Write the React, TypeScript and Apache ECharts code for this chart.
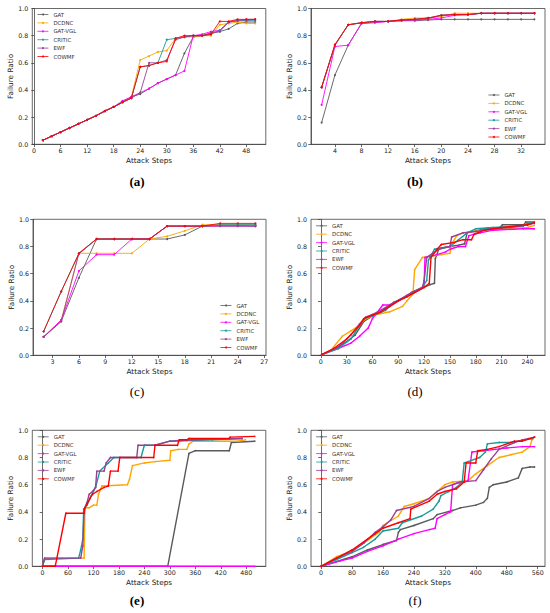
import React, { useEffect, useRef } from "react";
import * as echarts from "echarts";

const methods = ["GAT", "DCDNC", "GAT-VGL", "CRITIC", "EWF", "COWMF"];
const colors = ["#5a5a5a", "#ffa500", "#ff00ff", "#169c9c", "#9a3f96", "#ff0000"];

// Panel (a)
const aSteps = [2, 4, 6, 8, 10, 12, 14, 16, 18, 20, 22, 24, 26, 28, 30, 32, 34, 36, 38, 40, 42, 44, 46, 48, 50];
const aGAT = [0.03, 0.06, 0.09, 0.12, 0.15, 0.18, 0.21, 0.245, 0.275, 0.31, 0.35, 0.37, 0.41, 0.45, 0.48, 0.51, 0.67, 0.79, 0.80, 0.82, 0.83, 0.85, 0.89, 0.90, 0.90];
const aDCDNC = [0.03, 0.06, 0.09, 0.12, 0.15, 0.18, 0.21, 0.245, 0.275, 0.31, 0.35, 0.62, 0.65, 0.68, 0.69, 0.78, 0.79, 0.79, 0.80, 0.80, 0.88, 0.89, 0.90, 0.89, 0.89];
const aGATVGL = [0.03, 0.06, 0.09, 0.12, 0.15, 0.18, 0.21, 0.245, 0.275, 0.32, 0.35, 0.38, 0.41, 0.45, 0.48, 0.51, 0.54, 0.80, 0.81, 0.83, 0.84, 0.90, 0.91, 0.91, 0.92];
const aCRITIC = [0.03, 0.06, 0.09, 0.12, 0.15, 0.18, 0.21, 0.245, 0.275, 0.31, 0.34, 0.57, 0.58, 0.60, 0.77, 0.78, 0.79, 0.80, 0.80, 0.81, 0.84, 0.90, 0.91, 0.91, 0.91];
const aEWF = [0.03, 0.06, 0.09, 0.12, 0.15, 0.18, 0.21, 0.245, 0.275, 0.31, 0.34, 0.38, 0.60, 0.60, 0.62, 0.77, 0.79, 0.80, 0.80, 0.82, 0.83, 0.90, 0.91, 0.92, 0.92];
const aCOWMF = [0.03, 0.06, 0.09, 0.12, 0.15, 0.18, 0.21, 0.245, 0.275, 0.31, 0.34, 0.57, 0.58, 0.60, 0.61, 0.78, 0.80, 0.80, 0.80, 0.81, 0.905, 0.905, 0.92, 0.92, 0.92];

// Panel (b)
const bSteps = [2, 4, 6, 8, 10, 12, 14, 16, 18, 20, 22, 24, 26, 28, 30, 32, 34];
const bGAT = [0.16, 0.51, 0.73, 0.89, 0.90, 0.905, 0.91, 0.91, 0.915, 0.92, 0.92, 0.92, 0.92, 0.92, 0.92, 0.92, 0.92];
const bDCDNC = [0.42, 0.73, 0.88, 0.895, 0.90, 0.905, 0.92, 0.93, 0.93, 0.94, 0.965, 0.965, 0.965, 0.965, 0.965, 0.965, 0.965];
const bGATVGL = [0.29, 0.72, 0.73, 0.89, 0.895, 0.905, 0.91, 0.915, 0.92, 0.93, 0.95, 0.955, 0.965, 0.965, 0.965, 0.965, 0.965];
const bCRITIC = [0.42, 0.73, 0.88, 0.895, 0.905, 0.905, 0.915, 0.92, 0.93, 0.95, 0.955, 0.955, 0.965, 0.965, 0.965, 0.965, 0.965];
const bEWF = [0.42, 0.73, 0.88, 0.895, 0.905, 0.905, 0.915, 0.92, 0.925, 0.95, 0.955, 0.955, 0.965, 0.965, 0.965, 0.965, 0.965];
const bCOWMF = [0.42, 0.735, 0.88, 0.895, 0.905, 0.905, 0.915, 0.92, 0.93, 0.95, 0.955, 0.955, 0.965, 0.965, 0.965, 0.965, 0.965];

// Panel (c)
const cSteps = [2, 4, 6, 8, 10, 12, 14, 16, 18, 20, 22, 24, 26];
const cGAT = [0.135, 0.25, 0.57, 0.855, 0.855, 0.855, 0.855, 0.855, 0.885, 0.95, 0.955, 0.955, 0.95];
const cDCDNC = [0.135, 0.26, 0.75, 0.75, 0.75, 0.75, 0.855, 0.875, 0.915, 0.96, 0.96, 0.96, 0.96];
const cGATVGL = [0.135, 0.26, 0.62, 0.74, 0.74, 0.855, 0.855, 0.95, 0.95, 0.95, 0.95, 0.95, 0.95];
const cCRITIC = [0.175, 0.47, 0.745, 0.855, 0.855, 0.855, 0.855, 0.95, 0.95, 0.95, 0.96, 0.96, 0.96];
const cEWF = [0.135, 0.25, 0.75, 0.855, 0.855, 0.855, 0.855, 0.95, 0.95, 0.95, 0.95, 0.95, 0.95];
const cCOWMF = [0.175, 0.47, 0.75, 0.855, 0.855, 0.855, 0.855, 0.95, 0.95, 0.95, 0.97, 0.97, 0.97];

// Panel (d) [step, ratio]
const dGAT = [[1, 0.005], [15, 0.04], [30, 0.10], [40, 0.15], [50, 0.25], [60, 0.29], [75, 0.34], [90, 0.40], [105, 0.45], [120, 0.50], [127, 0.52], [132, 0.53], [133, 0.71], [137, 0.78], [150, 0.80], [160, 0.81], [167, 0.82], [170, 0.90], [190, 0.93], [208, 0.94], [211, 0.96], [236, 0.96], [238, 0.98], [248, 0.98]];
const dDCDNC = [[1, 0.005], [12, 0.04], [25, 0.14], [35, 0.18], [45, 0.22], [50, 0.26], [60, 0.29], [65, 0.30], [80, 0.32], [95, 0.36], [100, 0.40], [107, 0.45], [109, 0.63], [118, 0.72], [130, 0.73], [140, 0.74], [150, 0.75], [152, 0.82], [158, 0.88], [165, 0.90], [175, 0.91], [190, 0.92], [210, 0.93], [240, 0.94], [248, 0.955]];
const dGATVGL = [[1, 0.005], [20, 0.05], [35, 0.09], [45, 0.14], [55, 0.20], [60, 0.27], [72, 0.37], [80, 0.37], [92, 0.41], [100, 0.44], [108, 0.46], [118, 0.50], [120, 0.52], [121, 0.72], [135, 0.74], [145, 0.76], [150, 0.78], [160, 0.80], [168, 0.80], [172, 0.88], [185, 0.90], [200, 0.92], [235, 0.93], [248, 0.93]];
const dCRITIC = [[1, 0.005], [20, 0.05], [35, 0.12], [45, 0.22], [50, 0.27], [60, 0.29], [75, 0.33], [85, 0.39], [95, 0.42], [105, 0.46], [118, 0.50], [123, 0.55], [125, 0.70], [132, 0.78], [150, 0.80], [160, 0.85], [170, 0.90], [180, 0.93], [200, 0.94], [235, 0.95], [240, 0.97], [248, 0.975]];
const dEWF = [[1, 0.005], [20, 0.06], [35, 0.15], [45, 0.23], [52, 0.28], [60, 0.30], [75, 0.35], [85, 0.39], [95, 0.42], [105, 0.46], [118, 0.50], [120, 0.55], [123, 0.72], [130, 0.75], [140, 0.79], [150, 0.80], [152, 0.87], [165, 0.90], [180, 0.91], [200, 0.93], [220, 0.94], [240, 0.96], [248, 0.97]];
const dCOWMF = [[1, 0.005], [15, 0.05], [30, 0.12], [45, 0.22], [50, 0.27], [60, 0.295], [70, 0.32], [80, 0.36], [90, 0.40], [100, 0.43], [110, 0.465], [120, 0.50], [126, 0.53], [128, 0.72], [135, 0.78], [140, 0.815], [155, 0.83], [165, 0.85], [175, 0.85], [178, 0.89], [190, 0.92], [210, 0.94], [240, 0.96], [248, 0.975]];

// Panel (e)
const eGAT = [[0, 0], [295, 0], [345, 0.83], [360, 0.85], [440, 0.85], [445, 0.91], [500, 0.92]];
const eDCDNC = [[0, 0], [5, 0.06], [98, 0.06], [100, 0.43], [110, 0.43], [120, 0.45], [128, 0.45], [132, 0.53], [140, 0.59], [200, 0.60], [205, 0.64], [212, 0.74], [240, 0.76], [265, 0.77], [300, 0.78], [302, 0.85], [320, 0.86], [340, 0.86], [345, 0.90], [355, 0.92], [460, 0.92], [478, 0.93]];
const eGATVGL = [[0, 0], [500, 0]];
const eCRITIC = [[0, 0], [5, 0.05], [85, 0.06], [90, 0.12], [95, 0.20], [97, 0.42], [105, 0.45], [115, 0.52], [125, 0.58], [135, 0.70], [155, 0.76], [168, 0.80], [232, 0.80], [240, 0.89], [265, 0.89], [300, 0.92], [400, 0.93], [470, 0.94]];
const eEWF = [[0, 0], [5, 0.06], [90, 0.06], [95, 0.15], [98, 0.42], [105, 0.47], [110, 0.53], [118, 0.55], [125, 0.58], [128, 0.70], [145, 0.70], [150, 0.76], [160, 0.80], [222, 0.80], [225, 0.89], [265, 0.89], [300, 0.92], [350, 0.93], [470, 0.94]];
const eCOWMF = [[0, 0], [30, 0], [55, 0.39], [98, 0.39], [100, 0.43], [105, 0.46], [112, 0.50], [118, 0.53], [128, 0.55], [145, 0.58], [155, 0.59], [160, 0.70], [178, 0.70], [182, 0.80], [262, 0.80], [265, 0.89], [318, 0.89], [322, 0.93], [340, 0.93], [345, 0.94], [440, 0.94], [442, 0.95], [500, 0.955]];

// Panel (f)
const fGAT = [[0, 0], [80, 0.07], [120, 0.12], [160, 0.16], [195, 0.19], [200, 0.25], [205, 0.27], [240, 0.30], [290, 0.35], [300, 0.38], [340, 0.41], [360, 0.43], [400, 0.45], [420, 0.47], [430, 0.50], [435, 0.58], [445, 0.60], [480, 0.62], [510, 0.65], [520, 0.72], [540, 0.73], [552, 0.73]];
const fDCDNC = [[0, 0], [40, 0.07], [80, 0.11], [110, 0.17], [150, 0.25], [160, 0.30], [200, 0.37], [215, 0.44], [240, 0.46], [280, 0.50], [320, 0.60], [340, 0.62], [380, 0.63], [400, 0.68], [430, 0.74], [460, 0.80], [490, 0.82], [520, 0.84], [540, 0.88], [545, 0.93], [552, 0.95]];
const fGATVGL = [[0, 0], [50, 0.04], [80, 0.06], [120, 0.11], [160, 0.15], [200, 0.20], [240, 0.24], [280, 0.27], [295, 0.28], [300, 0.35], [320, 0.38], [335, 0.40], [340, 0.60], [350, 0.61], [370, 0.62], [380, 0.63], [390, 0.84], [420, 0.85], [450, 0.86], [480, 0.87], [520, 0.88], [552, 0.88]];
const fCRITIC = [[0, 0], [40, 0.05], [80, 0.10], [110, 0.14], [140, 0.20], [160, 0.26], [200, 0.28], [210, 0.32], [260, 0.37], [290, 0.42], [305, 0.48], [310, 0.52], [330, 0.55], [350, 0.58], [365, 0.62], [370, 0.76], [380, 0.77], [410, 0.80], [425, 0.84], [430, 0.90], [460, 0.91], [490, 0.91], [510, 0.92], [548, 0.94]];
const fEWF = [[0, 0], [40, 0.06], [80, 0.11], [110, 0.17], [140, 0.25], [160, 0.29], [180, 0.34], [195, 0.41], [240, 0.44], [280, 0.50], [300, 0.55], [320, 0.58], [360, 0.62], [400, 0.63], [420, 0.71], [440, 0.79], [460, 0.86], [500, 0.91], [520, 0.93], [552, 0.95]];
const fCOWMF = [[0, 0], [40, 0.06], [80, 0.12], [120, 0.20], [140, 0.24], [160, 0.28], [200, 0.32], [230, 0.35], [232, 0.42], [280, 0.48], [300, 0.53], [320, 0.55], [350, 0.57], [370, 0.62], [375, 0.76], [400, 0.76], [405, 0.85], [430, 0.86], [460, 0.88], [500, 0.92], [520, 0.92], [552, 0.95]];

// Tick labels
const aTicks = [0, 6, 12, 18, 24, 30, 36, 42, 48];
const bTicks = [4, 8, 12, 16, 20, 24, 28, 32];
const cTicks = [3, 6, 9, 12, 15, 18, 21, 24, 27];
const dTicks = [0, 30, 60, 90, 120, 150, 180, 210, 240];
const eTicks = [0, 60, 120, 180, 240, 300, 360, 420, 480];
const fTicks = [0, 80, 160, 240, 320, 400, 480, 560];
const panelLabels = ["(a)", "(b)", "(c)", "(d)", "(e)", "(f)"];

const zip = (xs: number[], ys: number[]) => xs.map((x, i) => [x, ys[i]]);

export default function App() {
  const ref = useRef<HTMLDivElement>(null);
  useEffect(() => {
    if (!ref.current) return;
    const chart = echarts.init(ref.current, undefined, { renderer: "svg" });
    const font = "DejaVu Sans";
    const grids = [
      { left: 32.3, top: 8.5, width: 233.5, height: 135.8 },
      { left: 311, top: 8.5, width: 234, height: 135.8 },
      { left: 33, top: 219.3, width: 233, height: 136 },
      { left: 311, top: 219.3, width: 234, height: 136 },
      { left: 32.3, top: 430.3, width: 233.5, height: 136 },
      { left: 311, top: 430.3, width: 234, height: 136 },
    ];
    const xRanges = [
      [-0.4, 52.4],
      [0.4, 35.6],
      [0.8, 27.2],
      [-11.4, 260.4],
      [-24, 526],
      [-26, 579],
    ];
    const ticks = [aTicks, bTicks, cTicks, dTicks, eTicks, fTicks];
    const data: number[][][][] = [
      [aGAT, aDCDNC, aGATVGL, aCRITIC, aEWF, aCOWMF].map((v) => zip(aSteps, v)),
      [bGAT, bDCDNC, bGATVGL, bCRITIC, bEWF, bCOWMF].map((v) => zip(bSteps, v)),
      [cGAT, cDCDNC, cGATVGL, cCRITIC, cEWF, cCOWMF].map((v) => zip(cSteps, v)),
      [dGAT, dDCDNC, dGATVGL, dCRITIC, dEWF, dCOWMF],
      [eGAT, eDCDNC, eGATVGL, eCRITIC, eEWF, eCOWMF],
      [fGAT, fDCDNC, fGATVGL, fCRITIC, fEWF, fCOWMF],
    ];
    const legendPos = [
      { left: 37, top: 11.5 },
      { left: 488, top: 92 },
      { left: 220, top: 302.5 },
      { left: 315.7, top: 222.8 },
      { left: 37.3, top: 433.8 },
      { left: 315.7, top: 433.8 },
    ];
    const labelPos = [
      [137, 181],
      [415, 181],
      [137, 391],
      [415, 391],
      [137, 600],
      [415, 600],
    ];
    const axisColor = "#444";
    const series: any[] = [];
    data.forEach((panel, p) => {
      panel.forEach((pts, m) => {
        const dense = p >= 3;
        series.push({
          type: "line",
          name: methods[m],
          xAxisIndex: p,
          yAxisIndex: p,
          data: pts,
          color: colors[m],
          lineStyle: { width: dense ? 1.4 : 0.9, color: colors[m] },
          itemStyle: { color: colors[m] },
          symbol: "circle",
          symbolSize: dense ? 1.6 : 2,
          showSymbol: true,
          z: 2 + m,
          silent: true,
        });
      });
    });
    const option: any = {
      animation: false,
      backgroundColor: "#fff",
      textStyle: { fontFamily: font },
      grid: grids.map((g) => ({
        ...g,
        show: true,
        borderColor: axisColor,
        borderWidth: 0.8,
        backgroundColor: "transparent",
        containLabel: false,
      })),
      xAxis: grids.map((_, p) => ({
        type: "value",
        gridIndex: p,
        min: xRanges[p][0],
        max: xRanges[p][1],
        name: "Attack Steps",
        nameLocation: "middle",
        nameGap: 12.5,
        nameTextStyle: { fontFamily: font, fontSize: 7.3, color: "#222" },
        axisLine: { show: true, lineStyle: { color: axisColor, width: 0.8 } },
        axisTick: {
          show: true,
          length: 2.8,
          lineStyle: { color: axisColor, width: 0.8 },
          customValues: ticks[p],
        },
        axisLabel: {
          show: true,
          fontFamily: font,
          fontSize: 6.3,
          color: "#222",
          margin: 3.5,
          customValues: ticks[p],
          formatter: (v: number) => String(Math.round(v)),
        },
        splitLine: { show: false },
      })),
      yAxis: grids.map((_, p) => ({
        type: "value",
        gridIndex: p,
        min: 0,
        max: 1,
        interval: 0.2,
        name: "Failure Ratio",
        nameLocation: "middle",
        nameGap: 18,
        nameTextStyle: { fontFamily: font, fontSize: 7.3, color: "#222" },
        axisLine: { show: true, lineStyle: { color: axisColor, width: 0.8 } },
        axisTick: { show: true, length: 2.8, lineStyle: { color: axisColor, width: 0.8 } },
        axisLabel: {
          show: true,
          fontFamily: font,
          fontSize: 6.3,
          color: "#222",
          margin: 4,
          formatter: (v: number) => v.toFixed(1),
        },
        splitLine: { show: false },
      })),
      legend: legendPos.map((lp) => ({
        ...lp,
        orient: "vertical",
        data: methods,
        itemWidth: 11,
        itemHeight: 2.5,
        itemGap: 2.4,
        selectedMode: false,
        lineStyle: { width: 0.8 },
        itemStyle: { borderWidth: 0 },
        textStyle: { fontFamily: font, fontSize: 5.4, color: "#333", lineHeight: 6 },
        padding: 0,
      })),
      series,
      graphic: panelLabels.map((t, i) => ({
        type: "text",
        x: labelPos[i][0],
        y: labelPos[i][1],
        style: {
          text: t,
          fontFamily: "Liberation Serif",
          fontSize: 13,
          fontWeight: i < 2 || i === 4 ? "bold" : "normal",
          fill: "#000",
          textAlign: "center",
          textVerticalAlign: "middle",
        },
      })),
    };
    chart.setOption(option);
    return () => chart.dispose();
  }, []);
  return (
    <div
      ref={ref}
      style={{ position: "absolute", left: 0, top: 0, width: 550, height: 613, background: "#fff" }}
    />
  );
}
